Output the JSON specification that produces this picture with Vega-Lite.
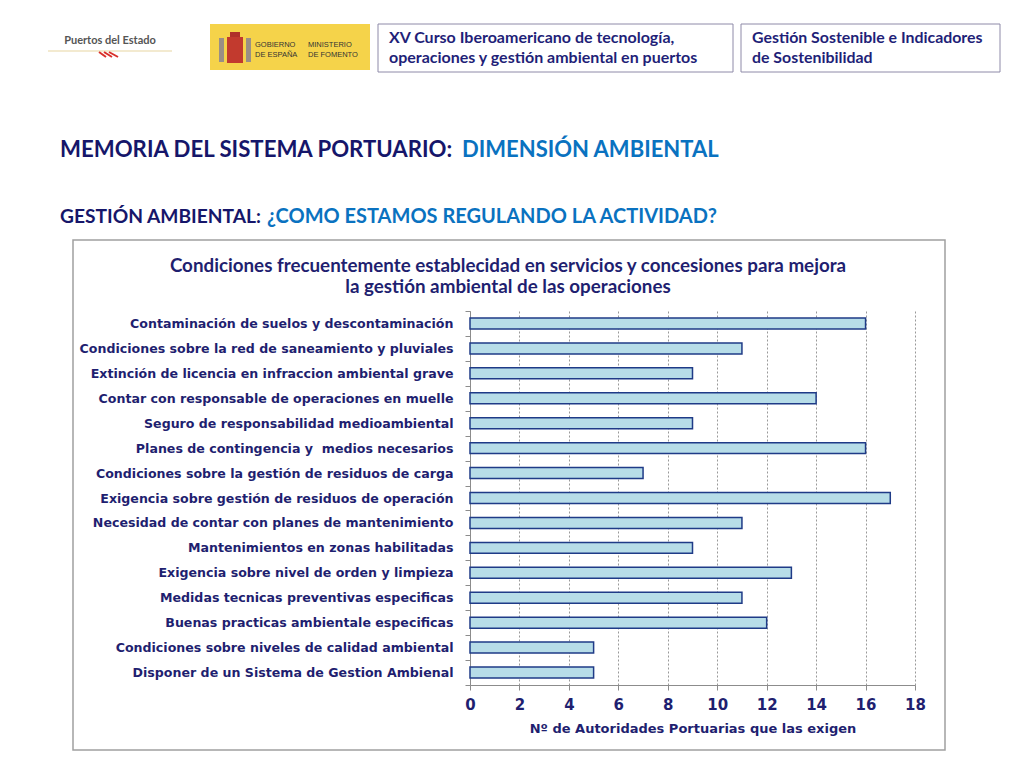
{
  "$schema": "https://vega.github.io/schema/vega-lite/v6.json",
  "width": 445,
  "height": 374,
  "autosize": {"type": "none"},
  "padding": {"left": 470, "top": 311, "right": 109, "bottom": 83},
  "background": "white",
  "config": {"view": {"stroke": null}},
  "data": {
    "values": [
      {"label": "Contaminación de suelos y descontaminación", "n": 16},
      {"label": "Condiciones sobre la red de saneamiento y pluviales", "n": 11},
      {"label": "Extinción de licencia en infraccion ambiental grave", "n": 9},
      {"label": "Contar con responsable de operaciones en muelle", "n": 14},
      {"label": "Seguro de responsabilidad medioambiental", "n": 9},
      {"label": "Planes de contingencia y\u00a0 medios necesarios", "n": 16},
      {"label": "Condiciones sobre la gestión de residuos de carga", "n": 7},
      {"label": "Exigencia sobre gestión de residuos de operación", "n": 17},
      {"label": "Necesidad de contar con planes de mantenimiento\u00a0", "n": 11},
      {"label": "Mantenimientos en zonas habilitadas", "n": 9},
      {"label": "Exigencia sobre nivel de orden y limpieza\u00a0", "n": 13},
      {"label": "Medidas tecnicas preventivas especificas", "n": 11},
      {"label": "Buenas practicas ambientale especificas", "n": 12},
      {"label": "Condiciones sobre niveles de calidad ambiental", "n": 5},
      {"label": "Disponer de un Sistema de Gestion Ambienal\u00a0", "n": 5}
    ]
  },
  "layer": [
    {
      "data": {"values": [{"k": 1}]},
      "mark": {"type": "rect", "fill": "transparent", "stroke": "#a0a0a0", "strokeWidth": 1.5},
      "encoding": {"x": {"value": -397}, "x2": {"value": 475}, "y": {"value": -71}, "y2": {"value": 439}}
    },
    {
      "mark": {"type": "bar", "fill": "#b7dde8", "stroke": "#1f3b87", "strokeWidth": 1.5, "height": {"band": 0.44}},
      "encoding": {
        "x": {
          "field": "n", "type": "quantitative",
          "scale": {"domain": [0, 18], "nice": false},
          "axis": {
            "values": [0, 2, 4, 6, 8, 10, 12, 14, 16, 18],
            "labelFlush": false,
            "grid": true, "gridDash": [2, 2], "gridColor": "#999999", "gridWidth": 1,
            "domainColor": "#8c8c8c", "tickColor": "#8c8c8c", "tickSize": 5,
            "labelFont": "DejaVu Sans", "labelFontWeight": "bold", "labelFontSize": 15, "labelColor": "#1f1f70", "labelPadding": 7,
            "title": "Nº de Autoridades Portuarias que las exigen",
            "titleFont": "DejaVu Sans", "titleFontWeight": "bold", "titleFontSize": 13, "titleColor": "#1f1f70", "titlePadding": 10
          }
        },
        "y": {
          "field": "label", "type": "nominal", "sort": null,
          "scale": {"paddingInner": 0, "paddingOuter": 0},
          "axis": {
            "title": null, "tickBand": "extent", "tickSize": 5, "tickColor": "#8c8c8c", "domainColor": "#8c8c8c",
            "labelFont": "DejaVu Sans", "labelFontWeight": "bold", "labelFontSize": 12.6, "labelColor": "#1f1f70",
            "labelPadding": 12, "labelLimit": 600
          }
        }
      }
    },
    {
      "data": {"values": [{"k": 1}]},
      "mark": {"type": "rule", "stroke": "#efe3c0", "strokeWidth": 1.5},
      "encoding": {"x": {"value": -422}, "x2": {"value": -298}, "y": {"value": -260}, "y2": {"value": -260}}
    },
    {
      "data": {"values": [{"k": 1}]},
      "mark": {"type": "rule", "stroke": "#d9302a", "strokeWidth": 2},
      "encoding": {"x": {"value": -371}, "x2": {"value": -364}, "y": {"value": -259}, "y2": {"value": -254}}
    },
    {
      "data": {"values": [{"k": 1}]},
      "mark": {"type": "rule", "stroke": "#d9302a", "strokeWidth": 2},
      "encoding": {"x": {"value": -366}, "x2": {"value": -358}, "y": {"value": -259}, "y2": {"value": -254}}
    },
    {
      "data": {"values": [{"k": 1}]},
      "mark": {"type": "rule", "stroke": "#d9302a", "strokeWidth": 2},
      "encoding": {"x": {"value": -361}, "x2": {"value": -352}, "y": {"value": -259}, "y2": {"value": -254}}
    },
    {
      "data": {"values": [{"k": 1}]},
      "mark": {"type": "text", "text": "Puertos del Estado", "font": "Lato", "fontWeight": "bold", "fontSize": 11, "color": "#555555", "align": "center", "baseline": "middle"},
      "encoding": {"x": {"value": -360}, "y": {"value": -270}}
    },
    {
      "data": {"values": [{"k": 1}]},
      "mark": {"type": "rect", "fill": "#f5d34a"},
      "encoding": {"x": {"value": -260}, "x2": {"value": -100}, "y": {"value": -287}, "y2": {"value": -241}}
    },
    {
      "data": {"values": [{"k": 1}]},
      "mark": {"type": "rect", "fill": "#9a8f86"},
      "encoding": {"x": {"value": -251}, "x2": {"value": -246}, "y": {"value": -273}, "y2": {"value": -249}}
    },
    {
      "data": {"values": [{"k": 1}]},
      "mark": {"type": "rect", "fill": "#9a8f86"},
      "encoding": {"x": {"value": -224}, "x2": {"value": -219}, "y": {"value": -273}, "y2": {"value": -249}}
    },
    {
      "data": {"values": [{"k": 1}]},
      "mark": {"type": "rect", "fill": "#c23a2e"},
      "encoding": {"x": {"value": -243}, "x2": {"value": -227}, "y": {"value": -274}, "y2": {"value": -248}}
    },
    {
      "data": {"values": [{"k": 1}]},
      "mark": {"type": "rect", "fill": "#b0302a"},
      "encoding": {"x": {"value": -240}, "x2": {"value": -230}, "y": {"value": -279}, "y2": {"value": -274}}
    },
    {
      "data": {"values": [{"k": 1}]},
      "mark": {"type": "text", "text": ["GOBIERNO", "DE ESPAÑA"], "font": "Liberation Sans", "fontSize": 7.5, "lineHeight": 9.5, "color": "#333333", "align": "left", "baseline": "middle"},
      "encoding": {"x": {"value": -215}, "y": {"value": -266}}
    },
    {
      "data": {"values": [{"k": 1}]},
      "mark": {"type": "text", "text": ["MINISTERIO", "DE FOMENTO"], "font": "Liberation Sans", "fontSize": 7.5, "lineHeight": 9.5, "color": "#333333", "align": "left", "baseline": "middle"},
      "encoding": {"x": {"value": -162}, "y": {"value": -266}}
    },
    {
      "data": {"values": [{"k": 1}]},
      "mark": {"type": "rect", "fill": "white", "stroke": "#8e8aa8", "strokeWidth": 1},
      "encoding": {"x": {"value": -92}, "x2": {"value": 263}, "y": {"value": -287}, "y2": {"value": -239}}
    },
    {
      "data": {"values": [{"k": 1}]},
      "mark": {"type": "text", "text": ["XV Curso Iberoamericano de tecnología,", "operaciones y gestión ambiental en puertos"], "font": "Lato", "fontWeight": "bold", "fontSize": 16, "lineHeight": 20, "color": "#1f1f78", "align": "left", "baseline": "middle"},
      "encoding": {"x": {"value": -81}, "y": {"value": -273}}
    },
    {
      "data": {"values": [{"k": 1}]},
      "mark": {"type": "rect", "fill": "white", "stroke": "#8e8aa8", "strokeWidth": 1},
      "encoding": {"x": {"value": 271}, "x2": {"value": 530}, "y": {"value": -287}, "y2": {"value": -239}}
    },
    {
      "data": {"values": [{"k": 1}]},
      "mark": {"type": "text", "text": ["Gestión Sostenible e Indicadores", "de Sostenibilidad"], "font": "Lato", "fontWeight": "bold", "fontSize": 15.9, "lineHeight": 20, "color": "#1f1f78", "align": "left", "baseline": "middle"},
      "encoding": {"x": {"value": 282}, "y": {"value": -273}}
    },
    {
      "data": {"values": [{"k": 1}]},
      "mark": {"type": "text", "text": "MEMORIA DEL SISTEMA PORTUARIO:", "font": "Lato", "fontWeight": "bold", "fontSize": 22.2, "color": "#16166a", "align": "left", "baseline": "middle"},
      "encoding": {"x": {"value": -410}, "y": {"value": -161}}
    },
    {
      "data": {"values": [{"k": 1}]},
      "mark": {"type": "text", "text": "DIMENSIÓN AMBIENTAL", "font": "Lato", "fontWeight": "bold", "fontSize": 22, "color": "#0a72c0", "align": "left", "baseline": "middle"},
      "encoding": {"x": {"value": -8}, "y": {"value": -161}}
    },
    {
      "data": {"values": [{"k": 1}]},
      "mark": {"type": "text", "text": "GESTIÓN AMBIENTAL:", "font": "Lato", "fontWeight": "bold", "fontSize": 19.2, "color": "#16166a", "align": "left", "baseline": "middle"},
      "encoding": {"x": {"value": -410}, "y": {"value": -94}}
    },
    {
      "data": {"values": [{"k": 1}]},
      "mark": {"type": "text", "text": "¿COMO ESTAMOS REGULANDO LA ACTIVIDAD?", "font": "Lato", "fontWeight": "bold", "fontSize": 20, "color": "#0a72c0", "align": "left", "baseline": "middle"},
      "encoding": {"x": {"value": -203}, "y": {"value": -94}}
    },
    {
      "data": {"values": [{"k": 1}]},
      "mark": {"type": "text", "text": ["Condiciones frecuentemente establecidad en servicios y concesiones para mejora", "la gestión ambiental de las operaciones"], "font": "Lato", "fontWeight": "bold", "fontSize": 18.8, "lineHeight": 21, "color": "#1f1f70", "align": "center", "baseline": "middle"},
      "encoding": {"x": {"value": 38}, "y": {"value": -45}}
    }
  ]
}
